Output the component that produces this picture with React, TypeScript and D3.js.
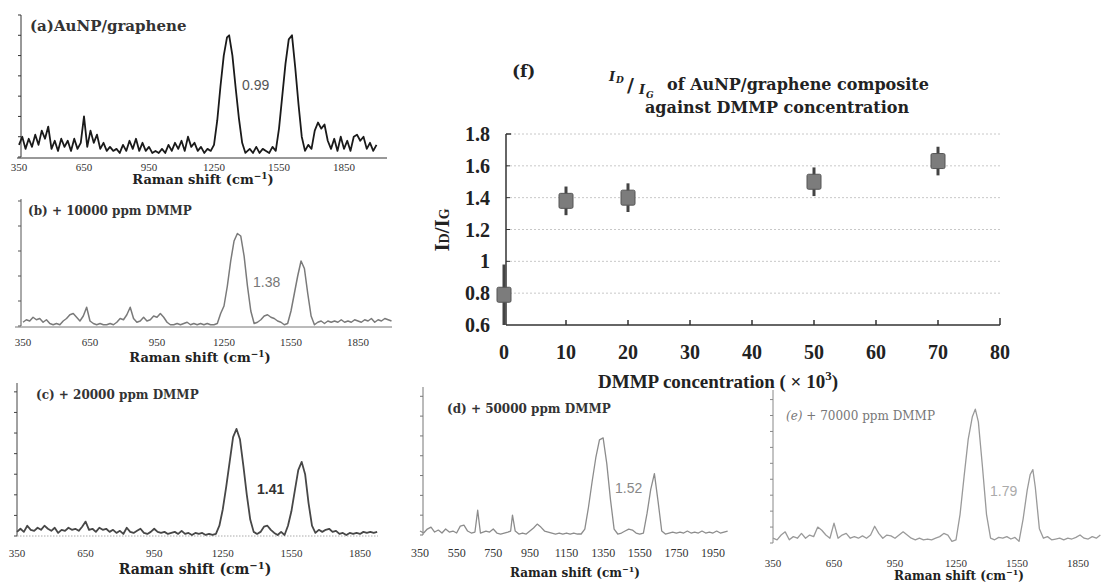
import React from 'react';
import * as d3 from 'd3';

const width = 1102;
const height = 582;

// Raman spectra: [wavenumber (cm-1), intensity (tick units)]
const specA = [
  [350, 0.6], [365, 1.0], [380, 0.4], [395, 0.9], [410, 0.5], [425, 1.1], [440, 0.6], [455, 1.3], [470, 0.9], [485, 1.5],
  [500, 0.4], [515, 0.8], [530, 0.3], [545, 0.9], [560, 0.5], [575, 0.8], [590, 0.3], [605, 0.9], [620, 0.4], [635, 0.7],
  [650, 2.0], [665, 0.5], [680, 1.3], [695, 0.7], [710, 1.1], [725, 0.4], [740, 0.7], [755, 0.3], [770, 0.5], [785, 0.3],
  [800, 0.4], [815, 0.2], [830, 0.6], [845, 0.3], [860, 0.8], [875, 0.4], [890, 0.9], [905, 0.3], [920, 0.7], [935, 0.3],
  [950, 0.5], [965, 0.2], [980, 0.3], [995, 0.2], [1010, 0.4], [1025, 0.2], [1040, 0.6], [1055, 0.3], [1070, 0.7], [1085, 0.4],
  [1100, 0.8], [1115, 0.3], [1130, 1.0], [1145, 0.5], [1160, 0.7], [1175, 0.3], [1190, 0.5], [1205, 0.2], [1220, 0.4], [1235, 0.3],
  [1250, 0.6], [1265, 1.8], [1280, 3.5], [1295, 5.0], [1310, 5.9], [1320, 6.0], [1335, 5.0], [1350, 3.4], [1365, 1.9], [1380, 0.7],
  [1395, 0.2], [1415, 0.4], [1430, 0.2], [1445, 0.5], [1460, 0.2], [1475, 0.4], [1490, 0.3], [1505, 0.2], [1520, 0.5], [1535, 0.3],
  [1550, 1.4], [1565, 3.0], [1580, 4.6], [1595, 5.8], [1610, 6.0], [1625, 4.4], [1640, 2.6], [1655, 1.0], [1670, 0.3], [1685, 0.6],
  [1700, 0.4], [1715, 1.3], [1730, 1.7], [1745, 1.4], [1760, 1.6], [1775, 0.8], [1790, 0.4], [1805, 0.9], [1820, 0.3], [1835, 1.0],
  [1850, 0.4], [1865, 0.8], [1880, 0.3], [1895, 1.0], [1910, 1.1], [1925, 0.8], [1940, 1.0], [1955, 0.4], [1970, 0.7], [1985, 0.3],
  [2000, 0.6],
];

const specB = [
  [350, 0.15], [365, 0.25], [380, 0.2], [395, 0.35], [410, 0.25], [425, 0.3], [440, 0.15], [455, 0.25], [470, 0.1], [485, 0.05],
  [500, 0.1], [515, 0.05], [530, 0.2], [545, 0.3], [560, 0.45], [575, 0.5], [590, 0.35], [605, 0.2], [620, 0.4], [635, 0.75],
  [650, 0.2], [665, 0.1], [680, 0.05], [695, 0.1], [710, 0.05], [725, 0.05], [740, 0.1], [755, 0.05], [770, 0.15], [785, 0.3],
  [800, 0.25], [815, 0.45], [830, 0.75], [845, 0.3], [860, 0.15], [875, 0.2], [890, 0.35], [905, 0.2], [920, 0.25], [935, 0.4],
  [950, 0.35], [965, 0.5], [980, 0.35], [995, 0.15], [1010, 0.05], [1025, 0.05], [1040, 0.1], [1055, 0.05], [1070, 0.1], [1085, 0.15],
  [1100, 0.05], [1115, 0.1], [1130, 0.05], [1145, 0.1], [1160, 0.05], [1175, 0.1], [1190, 0.05], [1205, 0.05], [1220, 0.1], [1235, 0.5],
  [1250, 0.8], [1265, 1.6], [1280, 2.6], [1295, 3.4], [1310, 3.7], [1325, 3.6], [1340, 2.8], [1355, 1.6], [1370, 0.6], [1385, 0.1],
  [1400, 0.15], [1415, 0.25], [1430, 0.4], [1445, 0.45], [1460, 0.35], [1475, 0.3], [1490, 0.2], [1505, 0.15], [1520, 0.05], [1535, 0.1],
  [1550, 0.6], [1565, 1.3], [1580, 2.0], [1595, 2.6], [1610, 2.3], [1625, 1.3], [1640, 0.4], [1655, 0.05], [1670, 0.15], [1685, 0.2],
  [1700, 0.1], [1715, 0.2], [1730, 0.15], [1745, 0.2], [1760, 0.15], [1775, 0.25], [1790, 0.15], [1805, 0.2], [1820, 0.15], [1835, 0.25],
  [1850, 0.2], [1865, 0.15], [1880, 0.25], [1895, 0.2], [1910, 0.3], [1925, 0.15], [1940, 0.25], [1955, 0.2], [1970, 0.3], [1985, 0.25],
  [2000, 0.2],
];

const specC = [
  [350, 0.2], [365, 0.35], [380, 0.2], [395, 0.5], [410, 0.3], [425, 0.25], [440, 0.4], [455, 0.3], [470, 0.5], [485, 0.35],
  [500, 0.25], [515, 0.4], [530, 0.15], [545, 0.3], [560, 0.25], [575, 0.4], [590, 0.3], [605, 0.35], [620, 0.25], [635, 0.45],
  [650, 0.7], [665, 0.3], [680, 0.35], [695, 0.2], [710, 0.4], [725, 0.3], [740, 0.35], [755, 0.2], [770, 0.3], [785, 0.15],
  [800, 0.25], [815, 0.1], [830, 0.4], [845, 0.2], [860, 0.15], [875, 0.25], [890, 0.35], [905, 0.15], [920, 0.1], [935, 0.2],
  [950, 0.35], [965, 0.2], [980, 0.15], [995, 0.2], [1010, 0.1], [1025, 0.15], [1040, 0.2], [1055, 0.1], [1070, 0.25], [1085, 0.1],
  [1100, 0.15], [1115, 0.05], [1130, 0.15], [1145, 0.1], [1160, 0.15], [1175, 0.05], [1190, 0.1], [1205, 0.05], [1220, 0.1], [1235, 0.5],
  [1250, 1.3], [1265, 2.4], [1280, 3.6], [1295, 4.8], [1310, 5.2], [1325, 4.7], [1340, 3.4], [1355, 2.0], [1370, 0.8], [1385, 0.2],
  [1400, 0.1], [1415, 0.2], [1430, 0.45], [1445, 0.5], [1460, 0.3], [1475, 0.15], [1490, 0.05], [1505, 0.2], [1520, 0.05], [1535, 0.5],
  [1550, 1.2], [1565, 2.2], [1580, 3.2], [1595, 3.6], [1610, 3.0], [1625, 1.6], [1640, 0.5], [1655, 0.15], [1670, 0.3], [1685, 0.2],
  [1700, 0.3], [1715, 0.35], [1730, 0.2], [1745, 0.25], [1760, 0.1], [1775, 0.15], [1790, 0.05], [1805, 0.15], [1820, 0.1], [1835, 0.15],
  [1850, 0.1], [1865, 0.2], [1880, 0.15], [1895, 0.2], [1910, 0.15], [1925, 0.2],
];

const specD = [
  [350, 0.2], [370, 0.1], [390, 0.3], [410, 0.4], [430, 0.15], [450, 0.25], [470, 0.1], [490, 0.3], [510, 0.15], [530, 0.2],
  [550, 0.1], [570, 0.45], [590, 0.5], [610, 0.2], [630, 0.1], [650, 0.15], [665, 1.25], [680, 0.1], [710, 0.2], [730, 0.15],
  [750, 0.3], [770, 0.1], [790, 0.05], [810, 0.1], [830, 0.15], [845, 0.2], [855, 1.0], [870, 0.2], [890, 0.05], [910, 0.1],
  [930, 0.05], [950, 0.2], [970, 0.35], [990, 0.55], [1010, 0.4], [1030, 0.2], [1050, 0.15], [1070, 0.1], [1090, 0.05], [1110, 0.1],
  [1130, 0.05], [1150, 0.1], [1170, 0.05], [1190, 0.1], [1210, 0.05], [1230, 0.05], [1250, 0.3], [1270, 1.4], [1290, 2.7], [1310, 3.9],
  [1330, 4.8], [1350, 4.9], [1370, 3.6], [1390, 1.8], [1410, 0.3], [1430, 0.05], [1450, 0.1], [1470, 0.2], [1490, 0.3], [1510, 0.25],
  [1530, 0.1], [1550, 0.05], [1570, 0.1], [1590, 1.1], [1610, 2.3], [1630, 3.1], [1650, 1.7], [1670, 0.2], [1690, 0.05], [1710, 0.1],
  [1730, 0.15], [1750, 0.1], [1770, 0.15], [1790, 0.1], [1810, 0.2], [1830, 0.1], [1850, 0.15], [1870, 0.1], [1890, 0.2], [1910, 0.1],
  [1930, 0.15], [1950, 0.1], [1970, 0.2], [1990, 0.1], [2010, 0.15], [2030, 0.2],
];

const specE = [
  [350, 0.3], [370, 0.2], [390, 0.5], [410, 0.7], [430, 0.2], [450, 0.4], [470, 0.3], [490, 0.6], [510, 0.3], [530, 0.5],
  [550, 0.4], [570, 1.0], [590, 0.8], [610, 0.5], [630, 0.3], [650, 1.25], [670, 0.3], [690, 0.5], [710, 0.6], [730, 0.3],
  [750, 0.4], [770, 0.3], [790, 0.45], [810, 0.3], [830, 0.5], [850, 1.05], [870, 0.6], [890, 0.3], [910, 0.5], [930, 0.45],
  [950, 0.3], [970, 0.5], [990, 0.7], [1010, 0.5], [1030, 0.3], [1050, 0.2], [1070, 0.3], [1090, 0.2], [1110, 0.25], [1130, 0.2],
  [1150, 0.3], [1170, 0.4], [1190, 0.6], [1210, 0.5], [1230, 0.1], [1250, 0.2], [1270, 1.8], [1290, 4.2], [1310, 6.5], [1330, 7.9],
  [1345, 8.4], [1360, 7.6], [1380, 4.8], [1400, 1.8], [1420, 0.3], [1440, 0.2], [1460, 0.35], [1480, 0.3], [1500, 0.4], [1520, 0.25],
  [1540, 0.35], [1560, 0.1], [1580, 1.5], [1600, 3.3], [1615, 4.3], [1628, 4.6], [1640, 3.5], [1660, 0.9], [1680, 0.3], [1700, 0.4],
  [1720, 0.2], [1740, 0.25], [1760, 0.3], [1780, 0.2], [1800, 0.3], [1820, 0.25], [1840, 0.35], [1860, 0.5], [1880, 0.3], [1900, 0.25],
  [1920, 0.4], [1940, 0.3], [1960, 0.5],
];

const shiftTicks = [350, 650, 950, 1250, 1550, 1850];
const shiftTicksWide = [350, 550, 750, 950, 1150, 1350, 1550, 1750, 1950];
const panelTitles = ['(a)AuNP/graphene', '(b) + 10000  ppm DMMP', '(c) + 20000  ppm DMMP', '(d) + 50000  ppm DMMP', '(e) + 70000  ppm DMMP'];
const peakRatioLabels = ['0.99', '1.38', '1.41', '1.52', '1.79'];

// panel (f)
const concentration = [0, 10, 20, 50, 70];
const ratio = [0.79, 1.38, 1.4, 1.5, 1.63];
const ratioErr = [0.19, 0.09, 0.09, 0.09, 0.09];
const ratioTicks = [0.6, 0.8, 1, 1.2, 1.4, 1.6, 1.8];
const concTicks = [0, 10, 20, 30, 40, 50, 60, 70, 80];

const serif = 'Liberation Serif, Times New Roman, serif';
const wideSerif = 'DejaVu Serif, serif';
const sans = 'Liberation Sans, Arial, sans-serif';

const panels = [
  { data: specA, title: panelTitles[0], titleSize: 15, ratio: peakRatioLabels[0], ticks: shiftTicks,
    xDom: [350, 1850], xRange: [19, 344], yMax: 7, yRange: [157, 15], axisX: 21, color: '#1a1a1a', sw: 1.8,
    titlePos: [30, 31], ratioPos: [242, 90], ratioColor: '#555', ratioWeight: 'normal',
    tickBase: 171, xTitle: [203, 184], baseline: 'solid', baseColor: '#333', baseExt: [17, 387], tickSize: 11, xTitleSize: 13, axisColor: '#333' },
  { data: specB, title: panelTitles[1], titleSize: 12, ratio: peakRatioLabels[1], ticks: shiftTicks,
    xDom: [350, 1850], xRange: [23, 358], yMax: 5.08, yRange: [326, 199], axisX: 21, color: '#7a7a7a', sw: 1.5,
    titlePos: [28, 215], ratioPos: [253, 287], ratioColor: '#777', ratioWeight: 'normal',
    tickBase: 346, xTitle: [200, 362], baseline: 'solid', baseColor: '#777', baseExt: [15, 392], tickSize: 11, xTitleSize: 13, axisColor: '#555' },
  { data: specC, title: panelTitles[2], titleSize: 12, ratio: peakRatioLabels[2], ticks: shiftTicks,
    xDom: [350, 1850], xRange: [17, 360], yMax: 7.43, yRange: [536, 383], axisX: 17, color: '#474747', sw: 1.8,
    titlePos: [36, 399], ratioPos: [257, 494], ratioColor: '#333', ratioWeight: 'bold',
    tickBase: 557, xTitle: [195, 574], baseline: 'dotted', baseColor: '#aaa', baseExt: [17, 378], tickSize: 11, xTitleSize: 14, axisColor: '#444' },
  { data: specD, title: panelTitles[3], titleSize: 12, ratio: peakRatioLabels[3], ticks: shiftTicksWide,
    xDom: [350, 1950], xRange: [420, 713], yMax: 7.47, yRange: [535, 387], axisX: 423, color: '#8c8c8c', sw: 1.3,
    titlePos: [447, 413], ratioPos: [615, 493], ratioColor: '#888', ratioWeight: 'normal',
    tickBase: 557, xTitle: [575, 577], baseline: 'none', baseColor: '#aaa', baseExt: [423, 723], tickSize: 12, xTitleSize: 12, axisColor: '#777' },
  { data: specE, title: panelTitles[4], titleSize: 12, ratio: peakRatioLabels[4], ticks: shiftTicks,
    xDom: [350, 1850], xRange: [773, 1078], yMax: 9.6, yRange: [543, 390], axisX: 773, color: '#9a9a9a', sw: 1.3,
    titlePos: [786, 420], ratioPos: [990, 496], ratioColor: '#aaa', ratioWeight: 'normal',
    tickBase: 567, xTitle: [959, 580], baseline: 'none', baseColor: '#bbb', baseExt: [773, 1100], tickSize: 11, xTitleSize: 12, axisColor: '#888' },
];

function Spectrum({ p, italicLabel }: { p: any; italicLabel?: boolean }) {
  const x = d3.scaleLinear().domain(p.xDom).range(p.xRange);
  const y = d3.scaleLinear().domain([0, p.yMax]).range(p.yRange);
  const line = d3.line<number[]>().x(d => x(d[0])).y(d => y(d[1]));
  const yTicks = d3.range(0, Math.floor(p.yMax) + 1);
  const labelColor = italicLabel ? '#777' : '#333';
  return (
    <g>
      <line x1={p.axisX} x2={p.axisX} y1={y(p.yMax)} y2={y(0)} stroke={p.axisColor} strokeWidth={1} />
      {yTicks.map(t => (
        <line key={t} x1={p.axisX - 3} x2={p.axisX} y1={y(t)} y2={y(t)} stroke={p.axisColor} strokeWidth={1} />
      ))}
      {p.baseline !== 'none' &&
        <line x1={p.baseExt[0]} x2={p.baseExt[1]} y1={y(0) + (p.baseline === 'solid' ? 1 : 0)} y2={y(0) + (p.baseline === 'solid' ? 1 : 0)}
          stroke={p.baseColor} strokeWidth={1} strokeDasharray={p.baseline === 'dotted' ? '1.5,1.5' : undefined} />
      }
      <path d={line(p.data) || ''} fill="none" stroke={p.color} strokeWidth={p.sw} strokeLinejoin="round" />
      {p.ticks.map((t: number) => (
        <text key={t} x={x(t)} y={p.tickBase} textAnchor="middle" fontFamily={serif} fontSize={p.tickSize} fill="#333">{t}</text>
      ))}
      <text x={p.xTitle[0]} y={p.xTitle[1]} textAnchor="middle" fontFamily={wideSerif} fontWeight="bold" fontSize={p.xTitleSize} fill="#222">
        Raman shift (cm<tspan dy={-5} fontSize={p.xTitleSize - 4}>−1</tspan><tspan dy={5}>)</tspan>
      </text>
      <text x={p.titlePos[0]} y={p.titlePos[1]} fontFamily={wideSerif} fontWeight={italicLabel ? 'normal' : 'bold'} fontSize={p.titleSize} fill={labelColor}>
        {italicLabel ? <><tspan fontStyle="italic">(e)</tspan>{p.title.slice(3)}</> : p.title}
      </text>
      <text x={p.ratioPos[0]} y={p.ratioPos[1]} fontFamily={sans} fontSize={14} fontWeight={p.ratioWeight} fill={p.ratioColor}>{p.ratio}</text>
    </g>
  );
}

function RatioChart() {
  const x = d3.scaleLinear().domain([0, 80]).range([504, 1000]);
  const y = d3.scaleLinear().domain([0.6, 1.8]).range([325, 134]);
  const axisX = 506;
  return (
    <g>
      {ratioTicks.slice(1).map(t => (
        <line key={t} x1={axisX} x2={x(80)} y1={y(t)} y2={y(t)} stroke="#c8c8c8" strokeWidth={1} strokeDasharray="2,2" />
      ))}
      <line x1={axisX} x2={axisX} y1={y(1.8)} y2={y(0.6)} stroke="#333" strokeWidth={1.5} />
      <line x1={axisX} x2={axisX + 5} y1={y(1.8)} y2={y(1.8)} stroke="#333" strokeWidth={1.5} />
      {ratioTicks.slice(1, -1).map(t => (
        <line key={t} x1={axisX} x2={axisX + 4} y1={y(t)} y2={y(t)} stroke="#333" strokeWidth={1} />
      ))}
      <line x1={axisX} x2={x(80)} y1={y(0.6)} y2={y(0.6)} stroke="#333" strokeWidth={1.5} />
      {concTicks.slice(1).map(t => (
        <line key={t} x1={x(t)} x2={x(t)} y1={y(0.6)} y2={y(0.6) - (t === 80 ? 7 : 5)} stroke="#333" strokeWidth={1.5} />
      ))}
      {ratioTicks.map(t => (
        <text key={t} x={490} y={y(t) + 7} textAnchor="end" fontFamily={serif} fontWeight="bold" fontSize={20} fill="#222">{t}</text>
      ))}
      {concTicks.map(t => (
        <text key={t} x={x(t)} y={359} textAnchor="middle" fontFamily={serif} fontWeight="bold" fontSize={20} fill="#222">{t}</text>
      ))}
      {concentration.map((c, i) => (
        <g key={c}>
          <line x1={x(c)} x2={x(c)} y1={y(ratio[i] + ratioErr[i])} y2={y(ratio[i] - ratioErr[i])} stroke="#444" strokeWidth={3} />
          <rect x={x(c) - 7} y={y(ratio[i]) - 7.5} width={14} height={15} rx={1.5} fill="#7c7c7c" stroke="#555" strokeWidth={1} />
        </g>
      ))}
      <text x={598} y={388} fontFamily={serif} fontWeight="bold" fontSize={19} fill="#222">
        DMMP concentration ( × 10<tspan dy={-8} fontSize={13}>3</tspan><tspan dy={8}>)</tspan>
      </text>
      <text transform="translate(449,230) rotate(-90)" textAnchor="middle" fontFamily={serif} fontWeight="bold" fontSize={21} fill="#222">
        I<tspan fontSize={14}>D</tspan>/I<tspan fontSize={14}>G</tspan>
      </text>
      <text x={512} y={77} fontFamily={wideSerif} fontWeight="bold" fontSize={17} fill="#222">(f)</text>
      <g fontFamily={wideSerif} fontWeight="bold" fontStyle="italic" fill="#222">
        <text x={609} y={81} fontSize={13}>I</text>
        <text x={616} y={83} fontSize={9}>D</text>
        <text x={627} y={92} fontSize={19} fontStyle="normal">/</text>
        <text x={639} y={94} fontSize={13}>I</text>
        <text x={646} y={98} fontSize={9}>G</text>
      </g>
      <text x={667} y={90} fontFamily={wideSerif} fontWeight="bold" fontSize={16} fill="#222">of AuNP/graphene composite</text>
      <text x={645} y={113} fontFamily={wideSerif} fontWeight="bold" fontSize={16} fill="#222">against DMMP concentration</text>
    </g>
  );
}

export default function App() {
  return (
    <svg width={width} height={height} style={{ position: 'absolute', left: 0, top: 0, background: '#fff' }}>
      {panels.map((p, i) => (
        <Spectrum key={i} p={p} italicLabel={i === 4} />
      ))}
      <RatioChart />
    </svg>
  );
}
